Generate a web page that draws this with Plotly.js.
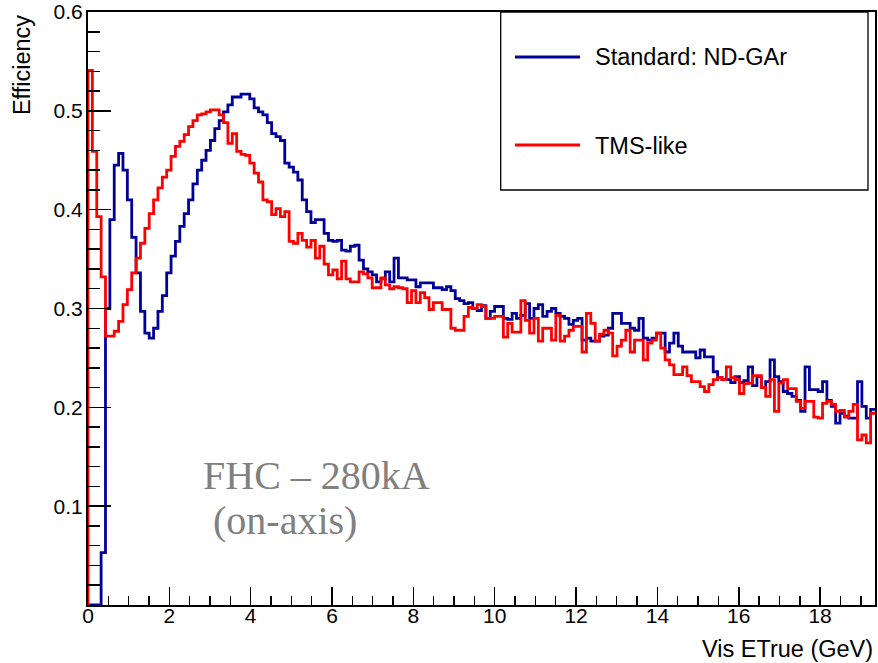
<!DOCTYPE html>
<html>
<head>
<meta charset="utf-8">
<script src="https://cdn.plot.ly/plotly-3.0.1.min.js"></script>
<style>
  html, body { margin: 0; padding: 0; background: #ffffff; }
  #chart { width: 878px; height: 663px; }
</style>
</head>
<body>
<div id="chart"></div>
<script>
// ---- data ----
const xMax = 19.35;          // upper edge of the histogram axis (GeV)
const nBins = 180;           // number of bins

const standardNDGAr = [
  0, 0, 0, 0.053, 0.30, 0.39, 0.445, 0.457, 0.44, 0.41,
  0.372, 0.336, 0.297, 0.275, 0.27, 0.28, 0.297, 0.313, 0.336, 0.353,
  0.368, 0.383, 0.396, 0.41, 0.426, 0.44, 0.45, 0.46, 0.47, 0.482,
  0.49, 0.499, 0.506, 0.514, 0.514, 0.517, 0.517, 0.512, 0.503, 0.499,
  0.496, 0.488, 0.477, 0.474, 0.47, 0.447, 0.443, 0.438, 0.43, 0.41,
  0.398, 0.387, 0.39, 0.39, 0.376, 0.369, 0.368, 0.369, 0.359, 0.358,
  0.363, 0.364, 0.349, 0.34, 0.337, 0.334, 0.327, 0.33, 0.337, 0.327,
  0.351, 0.331, 0.331, 0.329, 0.329, 0.322, 0.326, 0.326, 0.326, 0.321,
  0.321, 0.319, 0.322, 0.318, 0.31, 0.308, 0.305, 0.306, 0.30, 0.298,
  0.303, 0.29, 0.297, 0.302, 0.302, 0.29, 0.289, 0.295, 0.29, 0.293,
  0.305, 0.29, 0.30, 0.304, 0.292, 0.297, 0.30, 0.295, 0.292, 0.29,
  0.284, 0.288, 0.29, 0.268, 0.27, 0.267, 0.267, 0.272, 0.273, 0.28,
  0.295, 0.295, 0.285, 0.285, 0.28, 0.278, 0.29, 0.27, 0.268, 0.27,
  0.275, 0.275, 0.256, 0.265, 0.275, 0.262, 0.256, 0.256, 0.256, 0.25,
  0.258, 0.251, 0.251, 0.236, 0.23, 0.228, 0.228, 0.225, 0.231, 0.225,
  0.227, 0.241, 0.222, 0.231, 0.22, 0.226, 0.248, 0.231, 0.226, 0.216,
  0.214, 0.211, 0.207, 0.196, 0.241, 0.218, 0.218, 0.216, 0.226, 0.207,
  0.201, 0.184, 0.194, 0.191, 0.189, 0.189, 0.226, 0.201, 0.189, 0.198
];

const tmsLike = [
  0.541, 0.459, 0.393, 0.332, 0.272, 0.272, 0.277, 0.287, 0.304, 0.319,
  0.336, 0.351, 0.366, 0.381, 0.396, 0.41, 0.422, 0.433, 0.44, 0.454,
  0.464, 0.469, 0.476, 0.484, 0.49, 0.496, 0.497, 0.499, 0.501, 0.501,
  0.496, 0.488, 0.467, 0.477, 0.459, 0.456, 0.455, 0.447, 0.437, 0.428,
  0.41, 0.408, 0.395, 0.401, 0.393, 0.398, 0.368, 0.366, 0.376, 0.369,
  0.362, 0.369, 0.351, 0.363, 0.345, 0.334, 0.339, 0.33, 0.348, 0.33,
  0.327, 0.327, 0.337, 0.335, 0.331, 0.321, 0.321, 0.331, 0.324, 0.32,
  0.322, 0.321, 0.32, 0.306, 0.318, 0.306, 0.316, 0.311, 0.299, 0.306,
  0.306, 0.299, 0.299, 0.28, 0.278, 0.278, 0.292, 0.301, 0.30, 0.304,
  0.302, 0.29, 0.29, 0.292, 0.292, 0.271, 0.285, 0.276, 0.276, 0.308,
  0.288, 0.275, 0.29, 0.267, 0.28, 0.28, 0.268, 0.293, 0.267, 0.272,
  0.278, 0.282, 0.282, 0.256, 0.295, 0.285, 0.267, 0.274, 0.278, 0.275,
  0.252, 0.262, 0.268, 0.278, 0.256, 0.268, 0.268, 0.248, 0.265, 0.268,
  0.275, 0.26, 0.248, 0.243, 0.233, 0.233, 0.241, 0.232, 0.226, 0.226,
  0.221, 0.216, 0.223, 0.228, 0.23, 0.228, 0.241, 0.23, 0.228, 0.214,
  0.224, 0.2245, 0.232, 0.232, 0.22, 0.211, 0.228, 0.196, 0.2245, 0.228,
  0.219, 0.219, 0.206, 0.199, 0.206, 0.206, 0.19, 0.189, 0.204, 0.206,
  0.203, 0.196, 0.197, 0.19, 0.196, 0.203, 0.167, 0.172, 0.164, 0.194
];

const seriesNames = ["Standard: ND-GAr", "TMS-like"];
const seriesColors = ["#000099", "#ff0000"];
const yTickVals = [0.1, 0.2, 0.3, 0.4, 0.5, 0.6];
const yTickText = ["0.1", "0.2", "0.3", "0.4", "0.5", "0.6"];
const xTitle = "Vis ETrue (GeV)";
const yTitle = "Efficiency";
const labelLines = ["FHC \u2013 280kA", "(on-axis)"];

// ---- build step outlines (histogram style) ----
const binWidth = xMax / nBins;
function stepTrace(values, name, color) {
  const xs = [0], ys = [0];
  for (let i = 0; i < values.length; i++) {
    xs.push(i * binWidth);
    ys.push(values[i]);
  }
  xs.push(values.length * binWidth);
  ys.push(values[values.length - 1]);
  return {
    x: xs, y: ys, type: "scatter", mode: "lines", name: name,
    line: { shape: "hv", color: color, width: 2.8 },
    showlegend: false, hoverinfo: "skip"
  };
}

const traces = [
  stepTrace(standardNDGAr, seriesNames[0], seriesColors[0]),
  stepTrace(tmsLike, seriesNames[1], seriesColors[1])
];

const FONT = "Liberation Sans, Arial, Helvetica, sans-serif";
const SERIF = "Liberation Serif, Times New Roman, serif";

const layout = {
  width: 878, height: 663,
  margin: { l: 88, r: 3, t: 12, b: 58, pad: 0 },
  paper_bgcolor: "#ffffff", plot_bgcolor: "#ffffff",
  font: { family: FONT, size: 20, color: "#000000" },
  xaxis: {
    range: [0, xMax], showgrid: false, zeroline: false,
    showline: true, mirror: true, linecolor: "#000", linewidth: 2,
    ticks: "inside", ticklen: 18, tickwidth: 1.5, tickcolor: "#000",
    tick0: 0, dtick: 2, tickfont: { family: FONT, size: 21 },
    ticklabelstandoff: -9,
    minor: { ticks: "inside", ticklen: 9, tickwidth: 1.5, tickcolor: "#000", dtick: 0.5, tick0: 0, showgrid: false }
  },
  yaxis: {
    range: [0, 0.6], showgrid: false, zeroline: false,
    showline: true, mirror: true, linecolor: "#000", linewidth: 2,
    ticks: "inside", ticklen: 23, tickwidth: 1.5, tickcolor: "#000",
    tickmode: "array", tickvals: yTickVals, ticktext: yTickText,
    tickfont: { family: FONT, size: 21 }, ticklabelstandoff: -1,
    minor: { ticks: "inside", ticklen: 12, tickwidth: 1.5, tickcolor: "#000", tickmode: "linear", dtick: 0.02, tick0: 0, showgrid: false }
  },
  shapes: [
    // legend box
    { type: "rect", xref: "paper", yref: "paper", x0: 0.5244, x1: 0.9911, y0: 0.6998, y1: 1.0,
      line: { color: "#000", width: 1.3 }, fillcolor: "#ffffff", layer: "above" },
    { type: "line", xref: "paper", yref: "paper", x0: 0.5426, x1: 0.6252, y0: 0.9241, y1: 0.9241,
      line: { color: seriesColors[0], width: 2.8 }, layer: "above" },
    { type: "line", xref: "paper", yref: "paper", x0: 0.5426, x1: 0.6252, y0: 0.7757, y1: 0.7757,
      line: { color: seriesColors[1], width: 2.8 }, layer: "above" }
  ],
  annotations: [
    { text: seriesNames[0], xref: "paper", yref: "paper", x: 0.6417, y: 0.9241,
      xanchor: "left", yanchor: "middle", showarrow: false, font: { family: FONT, size: 23.5, color: "#000" } },
    { text: seriesNames[1], xref: "paper", yref: "paper", x: 0.6417, y: 0.7740,
      xanchor: "left", yanchor: "middle", showarrow: false, font: { family: FONT, size: 23.5, color: "#000" } },
    { text: xTitle, xref: "paper", yref: "paper", x: 1.0, y: -0.0740,
      xanchor: "right", yanchor: "middle", showarrow: false, font: { family: FONT, size: 23.5, color: "#000" } },
    { text: yTitle, xref: "paper", yref: "paper", x: -0.0840, y: 0.998, textangle: -90,
      xanchor: "center", yanchor: "top", showarrow: false, font: { family: FONT, size: 23.5, color: "#000" } },
    { text: labelLines[0], xref: "paper", yref: "paper", x: 0.1436, y: 0.2192,
      xanchor: "left", yanchor: "middle", showarrow: false, font: { family: SERIF, size: 40, color: "#808080" } },
    { text: labelLines[1], xref: "paper", yref: "paper", x: 0.1563, y: 0.1433,
      xanchor: "left", yanchor: "middle", showarrow: false, font: { family: SERIF, size: 40, color: "#808080" } }
  ]
};

Plotly.newPlot("chart", traces, layout, { staticPlot: true, displayModeBar: false });
</script>
</body>
</html>
